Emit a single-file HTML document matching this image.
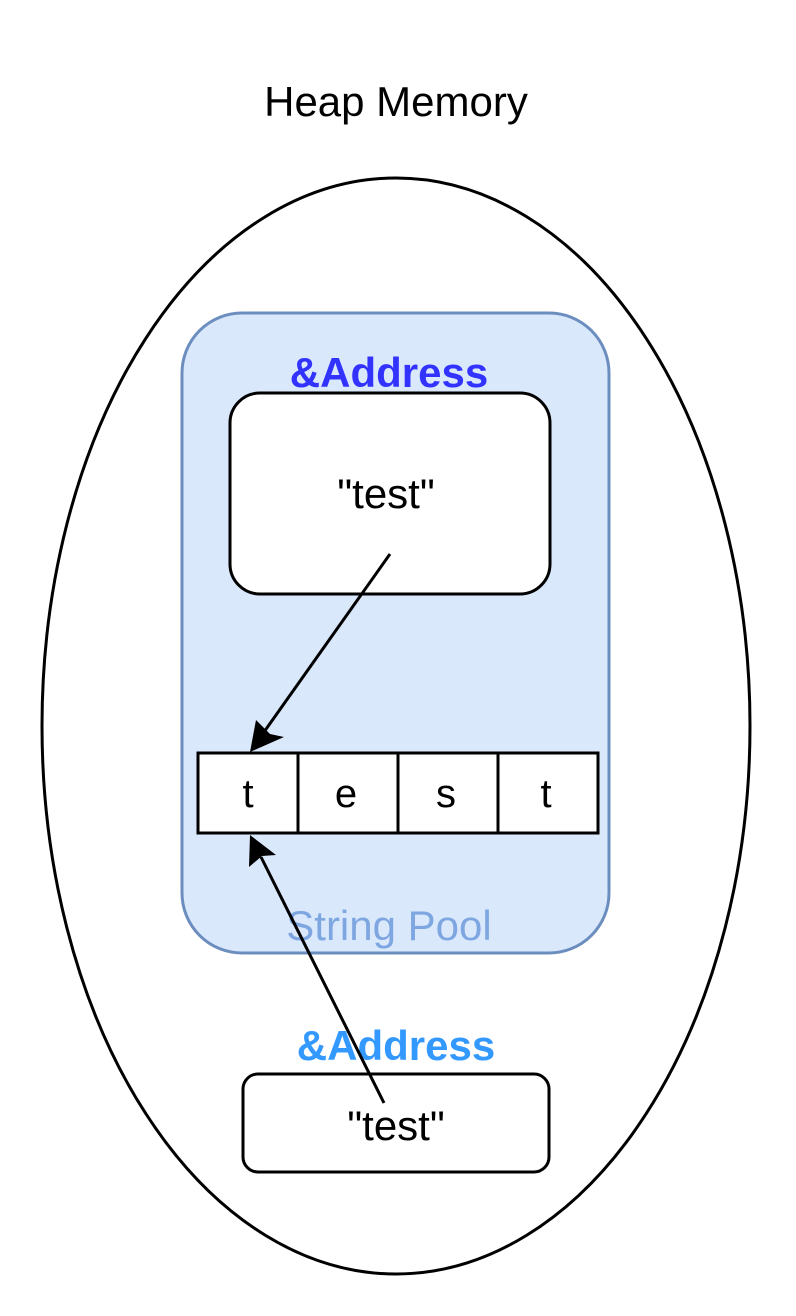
<!DOCTYPE html>
<html><head><meta charset="utf-8"><style>
html,body{margin:0;padding:0;background:#fff;}
svg{display:block;}
</style></head><body>
<svg width="796" height="1316" viewBox="0 0 796 1316" xmlns="http://www.w3.org/2000/svg" font-family="Liberation Sans, Arial, sans-serif">
<text x="396" y="116" font-size="42" text-anchor="middle" fill="#000">Heap Memory</text>
<ellipse cx="396" cy="726" rx="354" ry="548" fill="#fff" stroke="#000" stroke-width="3"/>
<rect x="182" y="313" width="427" height="640" rx="60" ry="60" fill="#dae8fc" stroke="#6c8ebf" stroke-width="3"/>
<text x="389" y="387" font-size="42" font-weight="bold" text-anchor="middle" fill="#3333ff">&amp;Address</text>
<rect x="230" y="393" width="320" height="201" rx="30" ry="30" fill="#fff" stroke="#000" stroke-width="3"/>
<text x="386" y="508" font-size="42" text-anchor="middle" fill="#000">"test"</text>
<g stroke="#000" stroke-width="3" fill="#fff">
<rect x="198" y="753" width="100" height="80"/>
<rect x="298" y="753" width="100" height="80"/>
<rect x="398" y="753" width="100" height="80"/>
<rect x="498" y="753" width="100" height="80"/>
</g>
<g font-size="40" text-anchor="middle" fill="#000">
<text x="248" y="807">t</text>
<text x="346" y="807">e</text>
<text x="446" y="807">s</text>
<text x="546" y="807">t</text>
</g>
<text x="389" y="940" font-size="42" text-anchor="middle" fill="#7ea6e0">String Pool</text>
<text x="396" y="1060" font-size="42" font-weight="bold" text-anchor="middle" fill="#3399ff">&amp;Address</text>
<rect x="243" y="1074" width="306" height="98" rx="15" ry="15" fill="#fff" stroke="#000" stroke-width="3"/>
<text x="396" y="1140" font-size="42" text-anchor="middle" fill="#000">"test"</text>
<line x1="390" y1="554" x2="264" y2="732" stroke="#000" stroke-width="3"/>
<polygon points="250,752 256,720 270,734 284,737" fill="#000"/>
<line x1="384" y1="1103" x2="261" y2="857" stroke="#000" stroke-width="3"/>
<polygon points="250,835 276,855 262,856 249,867" fill="#000"/>
</svg>
</body></html>
